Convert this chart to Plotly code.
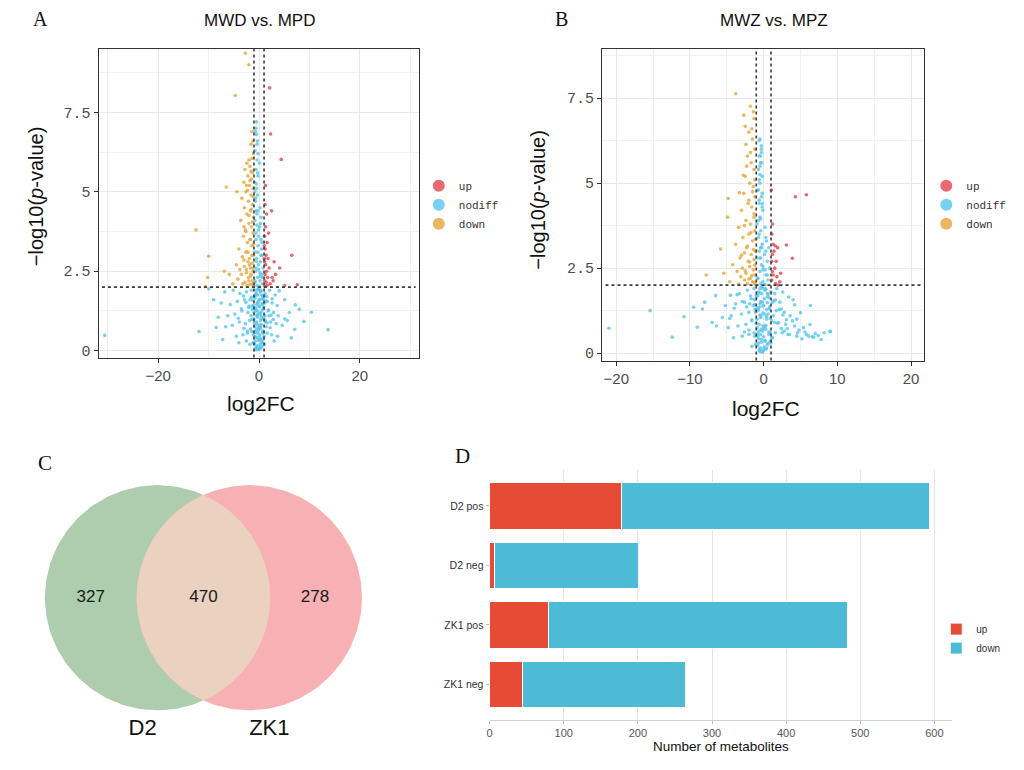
import numpy as np
import plotly.graph_objects as go

# ---- Panel A: MWD vs. MPD volcano (log2FC, -log10 p) ----
a_up_x = [2.1, 2.3, 4.4, 6.5, 4.1, 3.3, 5.1, 7.6, 1.2, 1.5, 1.3, 1.1, 1.6, 1.2, 1.4, 1.8,
          1.1, 1.3, 2.0, 1.5, 1.2, 1.7, 1.1, 1.4, 2.2, 1.6, 1.2, 2.6, 3.0, 1.9, 2.5, 1.3,
          2.8, 1.05, 1.05]
a_up_y = [8.27, 6.82, 6.02, 3.0, 2.6, 2.4, 2.05, 2.07, 4.6, 4.3, 3.9, 3.6, 3.4, 3.2, 3.0, 2.9,
          2.8, 2.7, 2.6, 2.5, 2.4, 2.3, 2.2, 2.15, 2.1, 2.05, 2.02, 2.3, 2.8, 3.7, 4.4, 5.2,
          2.2, 2.9, 3.3]

a_down_x = [-4.7, -2.7, -2.0, -6.5, -4.4, -12.5, -10.0, -10.2, -6.9, -5.9, -10.6,
            -1.2, -1.6, -1.1, -2.0, -2.4, -1.8, -2.8, -1.3, -2.2, -1.5, -3.0, -1.9, -1.2,
            -2.6, -1.6, -3.4, -2.1, -1.3, -2.9, -1.7, -2.4, -1.1, -3.6, -2.0, -1.5, -2.7,
            -1.2, -3.1, -1.8, -2.3, -1.4, -4.0, -2.6, -1.1, -3.3, -1.9, -2.2, -1.4, -4.5,
            -2.9, -1.7, -3.8, -1.2, -2.5, -3.5, -1.6, -2.1, -4.2, -1.3, -2.8, -3.2, -1.8,
            -2.4, -1.1, -5.2, -3.0, -2.5, -1.4,
            -1.3, -2.0, -1.6, -2.5, -1.2, -1.9, -3.0, -1.4, -2.2, -1.1, -1.7, -2.6, -1.3,
            -2.0, -1.5, -1.2, -2.3, -1.8, -1.6, -1.4]
a_down_y = [8.03, 9.36, 9.0, 5.15, 5.0, 3.8, 2.97, 2.3, 2.5, 2.4, 2.02,
            6.6, 6.5, 6.2, 6.0, 5.9, 5.8, 5.7, 5.6, 5.5, 5.4, 5.3, 5.2, 5.1,
            5.0, 4.9, 4.8, 4.7, 4.6, 4.5, 4.4, 4.3, 4.2, 4.1, 4.0, 3.9, 3.8,
            3.7, 3.6, 3.5, 3.4, 3.3, 3.2, 3.1, 3.0, 2.95, 2.9, 2.8, 2.75, 2.7,
            2.65, 2.6, 2.55, 2.5, 2.45, 2.4, 2.35, 2.3, 2.25, 2.2, 2.15, 2.1, 2.08,
            2.05, 2.03, 2.1, 3.9, 5.2, 6.9,
            2.1, 2.2, 2.4, 2.55, 2.6, 2.7, 2.85, 3.0, 3.1, 3.35, 3.5, 3.75, 4.05,
            4.25, 4.45, 4.85, 5.05, 5.35, 5.65, 6.05]

a_nod_x = [-0.5, -0.7, -0.3, -0.8, -0.4, -0.6, -0.2, -0.9, -0.5, -0.3, -0.7, 0.2, -0.4, -0.8,
           0.1, -0.6, 0.4, -0.2, -0.9, 0.6, -0.5, 0.3, -0.1, 0.8, -0.7, 0.5, -0.3, 0.2, -0.8,
           0.7, -0.4, 0.1, -0.6, 0.3, -0.1, 0.5, -0.2,
           -0.5, 0.3, -1.5, 1.2, -2.5, 2.1, -3.8, 3.2, -5.1, -6.8, 4.0, -0.9, 0.7, -1.8, 1.6,
           -2.9, 2.6, -4.3, -5.7, 5.1, 7.2, -7.5, -0.2, 0.1, -0.7, 0.9, -1.3, 1.8, -2.2, 2.9,
           -3.4, 3.8, -4.8, -6.2, 6.0, 10.4, -8.1, -0.4, 0.5, -1.0, 1.2, -1.9, 2.3, -2.7, 3.4,
           -3.9, 4.6, -5.3, -6.6, 8.9, 7.1, -8.5, 5.6, -0.1, 0.3, -0.6, 0.8, -1.4, 1.6, -2.3,
           2.5, -3.2, 3.7, -4.5, -11.9, 13.7, -30.6, -0.3, 0.2, -0.8, 0.6, -1.2, 1.1, -1.8,
           -0.4, 0.1, -0.2, 0.4, -0.6, 2.6, 5.1, -10.0, -9.0, 8.0, -7.2, 6.4, -0.3, 0.4, -0.9,
           1.5, -2.0, 2.0, -3.0, 3.0, -4.0, -0.5, 0.0, 0.7, -1.6, 1.4, -2.5]
a_nod_y = [7.2, 6.9, 6.6, 6.3, 6.0, 5.7, 5.5, 5.3, 5.1, 4.9, 4.7, 4.5, 4.3, 4.1,
           3.9, 3.7, 3.5, 3.3, 3.1, 3.0, 2.9, 2.8, 2.7, 2.6, 2.5, 2.4, 2.3, 2.2, 2.15,
           2.1, 2.05, 2.02, 4.4, 4.0, 3.6, 3.2, 6.2,
           1.9, 1.85, 1.9, 1.8, 1.85, 1.9, 1.8, 1.75, 1.9, 1.85, 1.88, 1.7, 1.65, 1.6, 1.55,
           1.6, 1.5, 1.55, 1.45, 1.6, 1.44, 1.5, 1.5, 1.4, 1.35, 1.3, 1.3, 1.25, 1.2, 1.2,
           1.25, 1.1, 1.15, 1.1, 1.2, 1.21, 1.05, 1.1, 1.0, 1.0, 0.95, 0.95, 0.9, 0.85, 0.85,
           0.9, 0.8, 0.8, 0.75, 0.92, 0.67, 0.73, 0.95, 0.8, 0.7, 0.65, 0.6, 0.6, 0.55, 0.55,
           0.5, 0.5, 0.45, 0.45, 0.6, 0.66, 0.48, 0.4, 0.35, 0.3, 0.25, 0.25, 0.2, 0.2,
           0.15, 0.1, 0.05, 0.08, 0.02, 1.63, 1.0, 1.94, 1.6, 1.3, 0.35, 0.4, 1.75, 1.2, 0.45,
           1.7, 1.4, 1.1, 0.7, 0.3, 0.25, 0.9, 1.6, 1.45, 1.1, 0.75, 0.3]
# dense core around log2FC = 0
a_core_x = [-0.2, 0.3, -0.6, 0.5, -0.9, 0.8, -1.2, 1.1, -0.4, 0.0, -0.7, 0.6, -1.0, 0.2,
            -0.3, 0.9, -1.4, 1.3, -0.5, 0.4, -0.8, 0.1, -0.1, 0.7, -1.1, 1.0, -0.6, 0.3,
            -0.2, 0.5, -0.9, 0.2, -0.4, 0.6, -0.7, 0.0, -0.3, 0.8, -1.3, 1.2, -0.5, 0.1,
            -0.8, 0.4, -0.1, 0.6, -0.6, 0.2, -0.4, 0.3,
            -0.1, 0.4, -0.5, 0.7, -0.8, 0.2, -0.3, 0.6, -1.1, 0.9, -0.6, 0.0, -0.4, 0.5,
            -0.9, 0.3, -0.2, 0.8, -0.7, 0.1, -1.5, 1.4, -2.0, 1.9, -2.6, 2.4, -3.1, 2.8,
            -1.7, 1.6, -2.3, 2.2, -3.5, -4.1, 3.6, -0.5, -0.3, -0.6, -0.4, -0.2, -0.7, -0.5,
            -0.3, 0.2, 0.4, -0.8, -0.1, 0.6, -0.4, -0.6]
a_core_y = [1.95, 1.9, 1.8, 1.75, 1.7, 1.62, 1.58, 1.5, 1.45, 1.38, 1.32, 1.28, 1.2, 1.15,
            1.05, 1.02, 0.98, 0.9, 0.85, 0.82, 0.75, 0.72, 0.65, 0.55, 0.5, 0.45, 0.42, 0.38,
            0.32, 0.28, 0.22, 0.18, 0.12, 0.14, 0.08, 0.04, 0.55, 0.35, 1.4, 1.1, 6.8, 5.9,
            5.0, 4.2, 3.8, 3.4, 2.6, 2.35, 1.25, 0.95,
            1.92, 1.88, 1.78, 1.72, 1.66, 1.6, 1.52, 1.48, 1.42, 1.36, 1.26, 1.18, 1.12, 1.08,
            0.88, 0.78, 0.7, 0.62, 0.58, 0.48, 1.68, 1.56, 1.36, 1.28, 1.52, 1.12, 1.72, 0.98,
            0.68, 0.88, 0.62, 0.72, 1.32, 1.02, 1.42, 2.8, 3.1, 3.5, 3.95, 4.4, 4.8, 5.25,
            5.6, 2.45, 3.0, 2.2, 2.55, 2.3, 6.5, 7.0]

# ---- Panel B: MWZ vs. MPZ volcano ----
b_up_x = [4.3, 5.8, 3.1, 3.9, 2.3, 1.2, 1.1, 1.3, 1.6, 1.9, 1.4, 1.2, 1.1, 1.5, 1.3, 1.8,
          1.1, 1.6, 2.0, 1.2, 2.2, 1.05, 1.7]
b_up_y = [4.6, 4.66, 3.18, 2.79, 2.35, 3.8, 3.5, 3.2, 3.15, 3.1, 3.0, 2.9, 2.7, 2.5, 2.3, 2.25,
          2.15, 2.05, 2.0, 2.4, 2.1, 4.8, 2.7]

b_down_x = [-3.8, -4.8, -4.9, -3.3, -5.85, -7.8, -5.4,
            -1.3, -2.0, -1.5, -1.2, -2.2, -1.7, -1.3, -2.5, -1.9, -1.4, -2.7, -1.2, -2.1,
            -1.6, -3.0, -1.3, -2.4, -1.8, -3.4, -1.2, -2.0, -2.8, -1.5, -3.8, -2.3, -1.1,
            -2.6, -1.7, -3.2, -1.3, -2.1, -4.2, -1.9, -2.9, -1.4, -3.6, -2.4, -1.2, -3.1,
            -1.8, -2.6, -4.6, -1.5, -2.2, -3.4, -1.1, -2.7, -1.8, -2.5, -2.4, -2.75,
            -1.3, -2.0, -1.6, -2.5, -1.2, -1.9, -3.0, -1.4, -2.2, -1.1, -1.7, -2.6, -1.3,
            -2.0, -1.5, -1.2, -2.3, -1.8, -1.6, -1.4]
b_down_y = [7.63, 4.55, 4.0, 4.72, 3.06, 2.3, 2.35,
            6.9, 6.5, 6.3, 6.0, 5.8, 5.6, 5.4, 5.2, 5.0, 4.9, 4.7, 4.6, 4.4,
            4.3, 4.2, 4.0, 3.9, 3.8, 3.7, 3.6, 3.5, 3.4, 3.3, 3.2, 3.1, 3.0,
            2.95, 2.9, 2.8, 2.75, 2.7, 2.6, 2.55, 2.5, 2.45, 2.4, 2.35, 2.3, 2.25,
            2.2, 2.15, 2.1, 2.1, 2.05, 2.03, 2.02, 7.0, 7.26, 6.67, 6.14, 5.23,
            2.08, 2.18, 2.28, 2.42, 2.58, 2.68, 2.88, 3.05, 3.15, 3.35, 3.55, 3.75, 4.1,
            4.5, 4.75, 5.1, 5.5, 5.9, 6.6, 7.1]

b_nod_x = [-0.5, -0.3, -0.6, -0.4, -0.7, -0.2, -0.5, -0.8, -0.3, -0.6, -0.1, -0.5, -0.9, 0.2,
           -0.4, -0.7, 0.4, -0.2, 0.7, -0.6, 0.1, -0.9, 0.5, -0.3, 0.8, -0.5, 0.3, -0.8, 0.6,
           -0.1, -0.4, 0.2, -0.3, -0.6, -0.2, -0.4,
           -21.0, -15.4, -12.4, -9.5, -8.3, -10.8, -9.0, -6.4, 9.05, 9.0, 7.4, 6.3, 5.0,
           -0.5, 0.2, -1.3, 1.0, -2.2, 1.8, -3.3, 2.6, -4.5, 3.4, -6.5, 4.0, -0.8, 0.5, -1.7,
           1.4, -2.6, 2.2, -3.8, -5.2, 6.35, -0.2, 0.0, -0.6, 0.8, -1.2, 1.7, -2.0, 2.8, -3.0,
           3.6, -4.4, -5.6, 4.5, -0.4, 0.4, -0.9, 1.1, -1.6, 2.0, -2.4, 3.0, -3.5, 4.2, -4.8,
           5.4, -0.1, 0.3, -0.6, 0.9, -1.3, 1.6, -2.0, 2.5, -2.9, 3.3, -4.1, 4.5, 5.8, 6.8,
           8.2, 7.8, -0.3, 0.2, -0.7, 0.5, -1.1, 1.0, -1.6, -0.4, 0.0, -0.2, 0.3, -0.5, -7.0,
           -8.0, 2.4, 1.2, -1.9, 3.9, -0.3, 0.6, -0.8, 1.5]
b_nod_y = [6.3, 6.0, 5.8, 5.6, 5.4, 5.2, 5.0, 4.8, 4.6, 4.4, 4.2, 4.0, 3.8, 3.7,
           3.6, 3.4, 3.3, 3.2, 3.1, 3.0, 2.9, 2.8, 2.7, 2.6, 2.5, 2.4, 2.3, 2.2, 2.15,
           2.1, 2.05, 2.02, 5.9, 5.1, 4.3, 3.1,
           0.73, 1.25, 0.47, 1.35, 1.3, 1.07, 0.76, 0.8, 0.63, 0.64, 0.52, 0.84, 1.19,
           1.9, 1.85, 1.9, 1.8, 1.85, 1.9, 1.75, 1.8, 1.7, 1.65, 1.69, 1.57, 1.7, 1.65, 1.6,
           1.55, 1.5, 1.5, 1.45, 1.4, 1.4, 1.5, 1.4, 1.35, 1.3, 1.3, 1.25, 1.2, 1.2, 1.15,
           1.1, 1.1, 1.05, 1.0, 1.1, 1.0, 1.0, 0.95, 0.95, 0.9, 0.85, 0.85, 0.8, 0.8, 0.75,
           0.75, 0.8, 0.7, 0.65, 0.6, 0.6, 0.6, 0.55, 0.6, 0.5, 0.55, 0.45, 0.5, 0.55, 0.47,
           0.6, 0.4, 0.4, 0.35, 0.3, 0.25, 0.25, 0.3, 0.2, 0.15, 0.1, 0.03, 0.12, 0.05, 0.9,
           1.5, 1.3, 0.45, 1.45, 0.95, 1.75, 1.15, 0.5, 1.75]
b_core_x = [-0.3, 0.2, -0.7, 0.5, -1.0, 0.8, -1.3, 1.2, -0.5, -0.1, -0.8, 0.4, -1.1, 0.1,
            -0.4, 0.9, -1.6, 1.5, -0.6, 0.3, -0.9, 0.0, -0.2, 0.7, -1.2, 1.1, -0.7, 0.2,
            -0.3, 0.6, -0.8, 0.1, -0.5, 0.4, -0.6, -0.1, -0.4, 0.9, -1.4, 1.3, -0.5, -0.2,
            -0.7, 0.3, -0.4, -0.1, 2.8, 3.5, 4.6, 5.2, 6.1, 7.0, -0.3, -0.6,
            -0.2, 0.3, -0.6, 0.6, -0.9, 0.1, -0.4, 0.5, -1.2, 0.8, -0.7, -0.1, -0.5, 0.4,
            -1.0, 0.2, -0.3, 0.7, -0.8, 0.0, -1.8, 1.6, -2.3, 2.1, -2.9, 2.6, -3.6, 3.1,
            -2.0, 1.9, -2.6, 2.4, -4.0, -4.6, 4.2, -0.5, -0.3, -0.6, -0.4, -0.2, -0.7, -0.5,
            -0.3, 0.2, 0.3, -0.8, -0.1, 0.5, -0.4, -0.6, 3.2, 4.8, 5.6, 6.6]
b_core_y = [1.95, 1.9, 1.8, 1.75, 1.7, 1.62, 1.58, 1.5, 1.45, 1.38, 1.32, 1.28, 1.2, 1.15,
            1.05, 1.02, 0.98, 0.9, 0.85, 0.82, 0.75, 0.72, 0.65, 0.55, 0.5, 0.45, 0.42, 0.38,
            0.32, 0.28, 0.22, 0.18, 0.12, 0.14, 0.08, 0.04, 0.55, 0.35, 1.4, 1.1, 5.5, 4.7,
            3.9, 3.4, 2.8, 2.45, 0.65, 0.55, 0.6, 0.42, 0.5, 0.58, 6.1, 4.5,
            1.92, 1.88, 1.78, 1.72, 1.66, 1.6, 1.52, 1.48, 1.42, 1.36, 1.26, 1.18, 1.12, 1.08,
            0.88, 0.78, 0.7, 0.62, 0.58, 0.48, 1.68, 1.56, 1.36, 1.28, 1.52, 1.12, 1.72, 0.98,
            0.68, 0.88, 0.62, 0.72, 1.32, 1.02, 1.42, 2.8, 3.1, 3.5, 3.95, 4.4, 4.8, 5.25,
            5.6, 2.45, 3.0, 2.2, 2.55, 2.3, 5.8, 6.25, 0.72, 0.68, 0.62, 0.48]

# ---- Panel C: Venn counts ----
venn_sets = ["D2", "ZK1"]
venn_counts = [327, 470, 278]  # D2 only, shared, ZK1 only

# ---- Panel D: differential metabolites per group ----
groups = ["D2 pos", "D2 neg", "ZK1 pos", "ZK1 neg"]
n_up = [178, 7, 80, 45]
n_down = [416, 194, 403, 219]

# thresholds used for the dashed guide lines
fc_cut = 1
p_cut = 2

C_UP = "#E4434D"
C_NOD = "#58C6EE"
C_DOWN = "#E8A53A"
GRID = "#E8E8E8"
FONT = "Liberation Sans"

# the page body adds an 8px offset, so the figure is a bit smaller than the window
W, H, OFF = 1016, 762, 8


def fx(p):
    return (p - OFF) / W


def fy(p):
    return 1 - (p - OFF) / H


fig = go.Figure()


def add_volcano(xa, ya, legend, pts):
    for name, color, xs, ys in pts:
        fig.add_trace(go.Scatter(
            x=xs, y=ys, mode="markers", name=name, legend=legend,
            xaxis=xa, yaxis=ya,
            marker=dict(color=color, size=3.6, opacity=0.8, line=dict(width=0)),
            hoverinfo="skip"))


add_volcano("x", "y", "legend", [("up", C_UP, a_up_x, a_up_y),
                                  ("nodiff", C_NOD, a_nod_x + a_core_x, a_nod_y + a_core_y),
                                  ("down", C_DOWN, a_down_x, a_down_y)])
add_volcano("x2", "y2", "legend2", [("up", C_UP, b_up_x, b_up_y),
                                     ("nodiff", C_NOD, b_nod_x + b_core_x, b_nod_y + b_core_y),
                                     ("down", C_DOWN, b_down_x, b_down_y)])

# Venn circles (geometry from layout constants, equal radius)
r = 1.0
cx = [-0.407, 0.407]
t = np.linspace(0, 2 * np.pi, 200)
fig.add_trace(go.Scatter(x=cx[0] + r * np.cos(t), y=r * np.sin(t), fill="toself",
                         fillcolor="#AECDAF", line=dict(width=0), mode="lines",
                         xaxis="x4", yaxis="y4", showlegend=False, hoverinfo="skip"))
fig.add_trace(go.Scatter(x=cx[1] + r * np.cos(t), y=r * np.sin(t), fill="toself",
                         fillcolor="#F7B1B4", line=dict(width=0), mode="lines",
                         xaxis="x4", yaxis="y4", showlegend=False, hoverinfo="skip"))
# lens where the two sets overlap
h = np.sqrt(r ** 2 - cx[1] ** 2)
a0 = np.arcsin(h / r)
ta = np.linspace(-a0, a0, 80)
lens_x = np.concatenate([cx[0] + r * np.cos(ta), cx[1] - r * np.cos(ta[::-1])])
lens_y = np.concatenate([r * np.sin(ta), r * np.sin(ta[::-1])])
fig.add_trace(go.Scatter(x=lens_x, y=lens_y, fill="toself", fillcolor="#EAD1C0",
                         line=dict(width=0), mode="lines", xaxis="x4", yaxis="y4",
                         showlegend=False, hoverinfo="skip"))
fig.add_trace(go.Scatter(x=[-1.0, 0.0, 0.99], y=[0, 0, 0], mode="text",
                         text=[str(v) for v in venn_counts],
                         textfont=dict(family=FONT, size=17, color="#1a1a1a"),
                         xaxis="x4", yaxis="y4", showlegend=False, hoverinfo="skip"))
fig.add_trace(go.Scatter(x=[-0.54, 0.585], y=[-1.17, -1.17], mode="text",
                         text=venn_sets, textfont=dict(family=FONT, size=22, color="#111"),
                         xaxis="x4", yaxis="y4", showlegend=False, hoverinfo="skip"))

# stacked bars
fig.add_trace(go.Bar(y=groups, x=n_up, name="up", orientation="h", legend="legend3",
                     marker=dict(color="#E64B35", line=dict(color="white", width=1)),
                     xaxis="x3", yaxis="y3"))
fig.add_trace(go.Bar(y=groups, x=n_down, name="down", orientation="h", legend="legend3",
                     marker=dict(color="#4DBBD5", line=dict(color="white", width=1)),
                     xaxis="x3", yaxis="y3"))

volc_x = dict(showgrid=True, gridcolor=GRID, gridwidth=1, zeroline=False,
              showline=True, mirror=True, linecolor="#333", linewidth=1.3,
              ticks="outside", ticklen=4, tickcolor="#333",
              tickfont=dict(family=FONT, size=15, color="#4D4D4D"),
              minor=dict(showgrid=True, gridcolor="#F1F1F1", gridwidth=0.6))
volc_y = dict(volc_x)
volc_y["tickfont"] = dict(family="Liberation Mono", size=15, color="#4D4D4D")

# Venn axis: 113 px per unit on both axes, shared centre at (201, 600) px
v_scale, v_cx, v_cy = 113.0, 201.0, 600.0

fig.update_layout(
    width=W, height=H, autosize=False,
    margin=dict(l=0, r=0, t=0, b=0),
    paper_bgcolor="white", plot_bgcolor="white",
    barmode="stack", bargap=0.22,
    xaxis=dict(volc_x, domain=[fx(96), fx(417)], range=[-31.8, 31.7], anchor="y",
               tick0=-20, dtick=20, minor=dict(volc_x["minor"], dtick=10)),
    yaxis=dict(volc_y, domain=[fy(359), fy(49)], range=[-0.22, 9.5], anchor="x",
               tick0=0, dtick=2.5, minor=dict(volc_x["minor"], dtick=1.25)),
    xaxis2=dict(volc_x, domain=[fx(601), fx(924)], range=[-21.9, 21.8], anchor="y2",
                tick0=-20, dtick=10, minor=dict(volc_x["minor"], dtick=5)),
    yaxis2=dict(volc_y, domain=[fy(362), fy(49)], range=[-0.22, 8.95], anchor="x2",
                tick0=0, dtick=2.5, minor=dict(volc_x["minor"], dtick=1.25)),
    xaxis3=dict(domain=[fx(488), fx(952)], range=[0, 624], anchor="y3",
                tickvals=[0, 100, 200, 300, 400, 500, 600],
                showgrid=True, gridcolor="#E3E3E3", zeroline=False,
                showline=True, linecolor="#CFCFCF", linewidth=1,
                ticks="outside", ticklen=3, tickcolor="#BBB",
                tickfont=dict(family=FONT, size=11, color="#555")),
    yaxis3=dict(domain=[fy(723), fy(472)], range=[3.6, -0.6], anchor="x3",
                showgrid=False, zeroline=False, showline=False,
                ticks="outside", ticklen=3, tickcolor="#BBB",
                tickfont=dict(family=FONT, size=10.5, color="#333")),
    xaxis4=dict(domain=[0.0, fx(440)],
                range=[(OFF - v_cx) / v_scale, (440 - v_cx) / v_scale], visible=False),
    yaxis4=dict(domain=[0.0, fy(440)],
                range=[-(770 - v_cy) / v_scale, (v_cy - 440) / v_scale], visible=False),
    legend=dict(x=fx(417), y=fy(172), xanchor="left", yanchor="top", itemsizing="constant",
                font=dict(family="Liberation Mono", size=11, color="#333"),
                bgcolor="rgba(0,0,0,0)"),
    legend2=dict(x=fx(926), y=fy(172), xanchor="left", yanchor="top", itemsizing="constant",
                 font=dict(family="Liberation Mono", size=11, color="#333"),
                 bgcolor="rgba(0,0,0,0)"),
    legend3=dict(x=fx(936), y=fy(617), xanchor="left", yanchor="top", traceorder="normal",
                 font=dict(family=FONT, size=10, color="#333"),
                 bgcolor="rgba(0,0,0,0)"),
)

# threshold guide lines
for xr, yr in [("x", "y"), ("x2", "y2")]:
    for xv in (-fc_cut, fc_cut):
        fig.add_shape(type="line", xref=xr, yref=yr + " domain", x0=xv, x1=xv, y0=0, y1=1,
                      line=dict(color="#3A3A3A", width=1.6, dash="dot"))
    fig.add_shape(type="line", xref=xr + " domain", yref=yr, x0=0.01, x1=0.99,
                  y0=p_cut, y1=p_cut, line=dict(color="#3A3A3A", width=1.6, dash="dot"))

ann = [
    dict(text="A", x=38, y=19, size=20, family="Liberation Serif"),
    dict(text="B", x=560, y=19, size=20, family="Liberation Serif"),
    dict(text="C", x=42, y=465, size=21, family="Liberation Serif"),
    dict(text="D", x=461, y=458, size=21, family="Liberation Serif"),
    dict(text="MWD vs. MPD", x=257, y=21, size=17, family=FONT),
    dict(text="MWZ vs. MPZ", x=773, y=21, size=17, family=FONT),
    dict(text="log2FC", x=259, y=405, size=21, family=FONT),
    dict(text="log2FC", x=765, y=410, size=21, family=FONT),
    dict(text="Number of metabolites", x=720, y=749, size=13.5, family=FONT),
]
for a in ann:
    fig.add_annotation(text=a["text"], xref="paper", yref="paper",
                       x=fx(a["x"]), y=fy(a["y"]), showarrow=False,
                       xanchor="center", yanchor="middle",
                       font=dict(family=a["family"], size=a["size"], color="#111"))
for xpix, ypix in [(33, 197), (537, 200)]:
    fig.add_annotation(text="\u2212log10(<i>p</i>-value)", xref="paper", yref="paper",
                       x=fx(xpix), y=fy(ypix), showarrow=False, textangle=-90,
                       xanchor="center", yanchor="middle",
                       font=dict(family=FONT, size=20, color="#111"))

fig.write_html("out.html")
